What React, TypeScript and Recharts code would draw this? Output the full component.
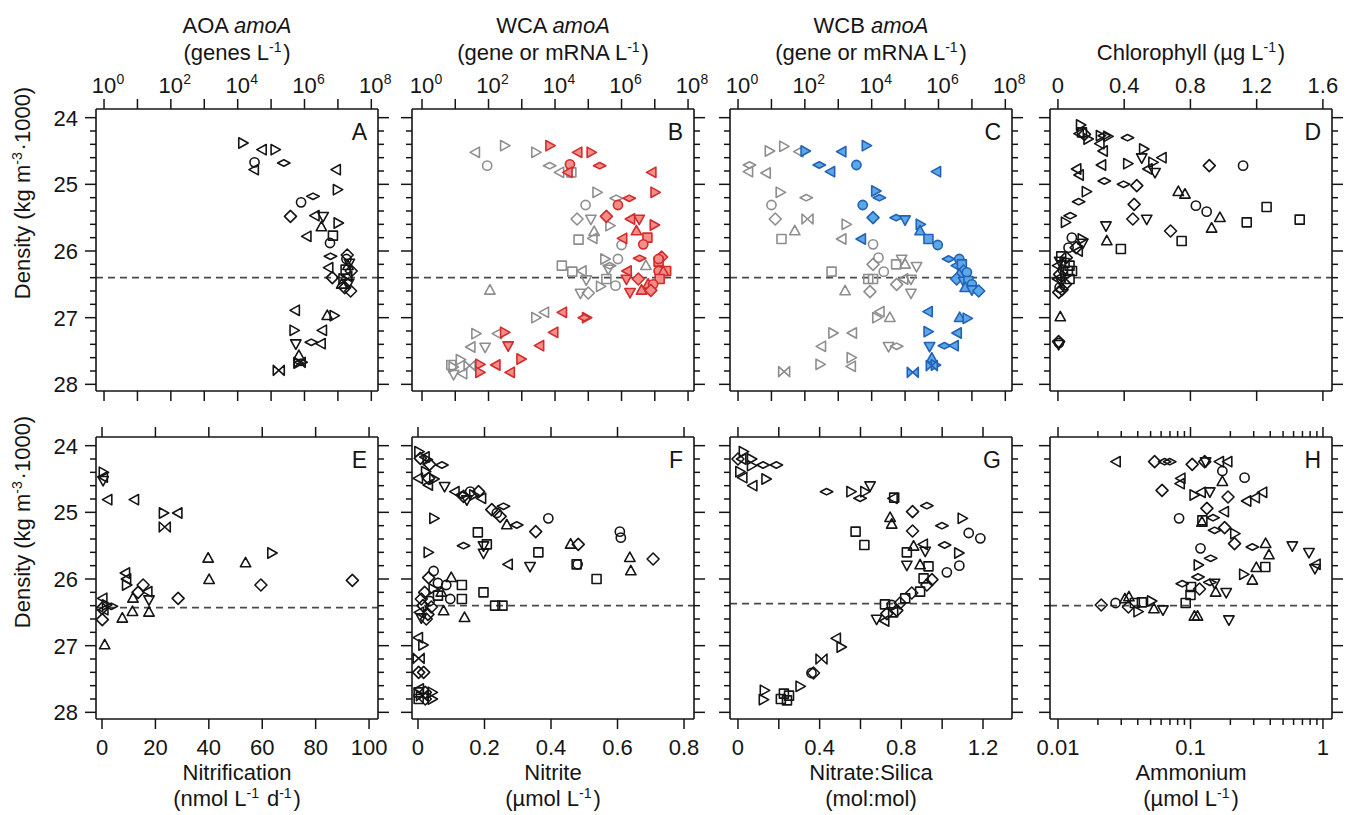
import { ScatterChart, Scatter, XAxis, YAxis, ReferenceLine } from "recharts";

type Row = [number, number, string];

// markers: o circle, s square, d diamond, f flat diamond, u/v/l/r triangles, b bowtie

const densityTicks = [24, 24.2, 24.4, 24.6, 24.8, 25, 25.2, 25.4, 25.6, 25.8, 26, 26.2, 26.4, 26.6, 26.8, 27, 27.2, 27.4, 27.6, 27.8, 28];
const ticksLog = [1, 10, 100, 1e3, 1e4, 1e5, 1e6, 1e7, 1e8];
const ticksChl = [0, 0.4, 0.8, 1.2, 1.6];
const ticksNitrif = [0, 20, 40, 60, 80, 100];
const ticksNitrite = [0, 0.2, 0.4, 0.6, 0.8];
const ticksNs = [0, 0.2, 0.4, 0.6, 0.8, 1, 1.2];
const labelsNs = [0, 0.4, 0.8, 1.2];
const ticksNh4 = [0.01, 0.02, 0.03, 0.04, 0.05, 0.06, 0.07, 0.08, 0.09, 0.1, 0.2, 0.3, 0.4, 0.5, 0.6, 0.7, 0.8, 0.9, 1];

const aoa: Row[] = [
  [1.4e4, 24.38, "r"], [5.5e4, 24.48, "l"], [1.3e5, 24.48, "r"], [3.2e4, 24.67, "o"], [3.2e4, 24.78, "l"],
  [2.4e5, 24.68, "f"], [9.1e6, 24.78, "l"], [9.5e6, 25.08, "r"], [1.8e6, 25.18, "f"], [7.9e5, 25.27, "o"],
  [3.8e5, 25.48, "d"], [2.1e6, 25.47, "l"], [3.6e6, 25.48, "v"], [3.2e6, 25.64, "u"], [1.0e7, 25.58, "r"],
  [1.2e6, 25.78, "l"], [7.1e6, 25.77, "s"], [5.8e6, 25.88, "o"], [6.0e6, 26.08, "f"], [1.9e7, 26.06, "d"],
  [1.8e7, 26.12, "o"], [2.2e7, 26.18, "v"], [2.0e7, 26.22, "u"], [2.5e7, 26.3, "d"], [1.7e7, 26.28, "s"],
  [2.0e7, 26.38, "l"], [1.4e7, 26.42, "r"], [2.1e7, 26.48, "v"], [1.6e7, 26.55, "d"], [2.4e7, 26.6, "d"],
  [1.3e7, 26.5, "u"], [5.4e6, 26.25, "l"], [6.8e6, 26.4, "d"], [5.4e5, 26.89, "l"], [4.8e6, 26.97, "u"],
  [7.6e6, 26.97, "r"], [4.8e5, 27.19, "r"], [3.5e6, 27.19, "l"], [1.6e6, 27.37, "f"], [3.2e6, 27.39, "l"],
  [5.5e5, 27.39, "v"], [6.8e5, 27.57, "u"], [7.2e5, 27.67, "b"], [7.9e5, 27.67, "f"], [6.3e5, 27.68, "r"],
  [1.7e5, 27.79, "b"],
];

const wcaGenes: Row[] = [
  [41, 24.52, "l"], [300, 24.42, "r"], [91, 24.72, "o"], [2.6e3, 24.52, "r"], [6.9e3, 24.72, "f"],
  [1.4e4, 24.82, "l"], [3.1e4, 24.82, "s"], [1.8e5, 25.12, "r"], [8.3e4, 25.31, "o"], [6.9e5, 25.21, "f"],
  [4.6e4, 25.52, "d"], [1.2e5, 25.52, "v"], [1.5e5, 25.71, "u"], [1.4e5, 25.81, "l"], [4.4e5, 25.62, "r"],
  [5.1e4, 25.83, "s"], [1.0e6, 25.91, "o"], [3.1e5, 26.12, "r"], [7.8e5, 26.12, "o"], [4.4e5, 26.22, "f"],
  [4.0e5, 26.27, "v"], [1.6e4, 26.22, "s"], [3.3e4, 26.31, "s"], [6.6e4, 26.3, "l"], [8.7e4, 26.43, "v"],
  [3.5e5, 26.42, "s"], [6.6e5, 26.52, "o"], [5.4e6, 26.22, "u"], [2.3e5, 26.53, "r"], [5.8e4, 26.63, "v"],
  [1.0e5, 26.63, "d"], [110, 26.59, "u"], [2.6e3, 27.0, "r"], [4.9e3, 26.92, "l"], [41, 27.24, "r"],
  [190, 27.24, "l"], [30, 27.44, "l"], [79, 27.44, "v"], [14, 27.63, "r"], [8.5, 27.74, "r"],
  [8.9, 27.85, "v"], [17, 27.84, "l"], [7.6, 27.71, "s"], [27, 27.72, "b"],
];

const wcaMrna: Row[] = [
  [6.9e3, 24.42, "r"], [4.9e4, 24.52, "l"], [1.2e5, 24.52, "r"], [2.8e4, 24.7, "o"], [2.5e4, 24.82, "l"],
  [2.2e5, 24.72, "f"], [8.3e6, 24.82, "l"], [1.0e7, 25.12, "r"], [1.7e6, 25.21, "f"], [7.8e5, 25.31, "o"],
  [3.5e5, 25.48, "d"], [1.9e6, 25.52, "l"], [3.4e6, 25.52, "v"], [9.5e6, 25.61, "r"], [2.8e6, 25.7, "u"],
  [6.0e6, 25.8, "s"], [1.1e6, 25.81, "l"], [4.5e6, 25.9, "o"], [3.5e6, 26.11, "f"], [1.6e7, 26.09, "d"],
  [1.3e7, 26.16, "s"], [1.3e7, 26.12, "o"], [2.2e7, 26.3, "s"], [1.3e7, 26.3, "o"], [1.8e7, 26.31, "u"],
  [1.4e7, 26.42, "s"], [1.5e6, 26.3, "l"], [1.4e6, 26.42, "v"], [3.2e6, 26.42, "d"], [6.3e6, 26.5, "u"],
  [1.8e6, 26.62, "v"], [4.0e6, 26.59, "u"], [8.9e6, 26.5, "o"], [7.6e6, 26.59, "d"], [1.7e4, 26.92, "l"],
  [8.7e4, 27.0, "r"], [7.6e4, 27.0, "f"], [9.3e3, 27.22, "l"], [300, 27.22, "r"], [390, 27.42, "v"],
  [3.5e3, 27.42, "l"], [930, 27.62, "r"], [170, 27.71, "l"], [460, 27.82, "l"], [54, 27.7, "r"],
  [54, 27.82, "r"],
];

const wcbGenes: Row[] = [
  [8.5, 24.5, "r"], [23, 24.43, "r"], [68, 24.51, "l"], [2.2, 24.71, "f"], [2.1, 24.81, "l"],
  [7.1, 24.83, "l"], [18, 25.12, "r"], [110, 25.2, "f"], [10, 25.31, "o"], [13, 25.52, "d"],
  [120, 25.52, "b"], [50, 25.7, "u"], [20, 25.82, "s"], [1.7e3, 25.6, "r"], [1.3e3, 25.82, "l"],
  [1.1e4, 25.9, "o"], [1.6e4, 26.1, "o"], [1.1e4, 26.2, "d"], [2.3e4, 26.31, "o"], [5.4e4, 26.2, "s"],
  [7.9e4, 26.12, "v"], [1.0e5, 26.2, "u"], [2.2e5, 26.23, "v"], [630, 26.31, "s"], [7.9e3, 26.42, "s"],
  [1.1e4, 26.42, "s"], [5.6e4, 26.5, "d"], [9.3e4, 26.42, "l"], [1.5e5, 26.42, "v"], [1.5e5, 26.63, "v"],
  [1.6e3, 26.6, "u"], [8.9e3, 26.61, "d"], [3.5e4, 27.0, "u"], [1.8e4, 26.91, "l"], [1.4e4, 27.0, "r"],
  [680, 27.23, "r"], [2.7e3, 27.23, "l"], [320, 27.43, "l"], [3.2e4, 27.43, "v"], [5.6e4, 27.43, "f"],
  [280, 27.7, "r"], [2.4e3, 27.6, "r"], [2.5e3, 27.73, "l"], [24, 27.81, "b"],
];

const wcbMrna: Row[] = [
  [100, 24.5, "r"], [1.3e3, 24.51, "l"], [6.8e3, 24.42, "r"], [270, 24.71, "f"], [600, 24.81, "l"],
  [3.5e3, 24.71, "o"], [8.9e5, 24.81, "l"], [1.3e4, 25.1, "r"], [1.7e4, 25.2, "f"], [5.4e3, 25.31, "o"],
  [1.1e4, 25.5, "d"], [5.4e4, 25.5, "f"], [1.0e5, 25.53, "v"], [2.8e5, 25.6, "r"], [2.8e5, 25.7, "u"],
  [5.0e5, 25.82, "s"], [9.5e5, 25.91, "o"], [5.0e3, 25.82, "l"], [2.0e6, 26.12, "f"], [4.2e6, 26.12, "o"],
  [3.5e6, 26.22, "l"], [5.0e6, 26.2, "s"], [5.6e6, 26.3, "d"], [7.1e6, 26.32, "o"], [4.2e6, 26.35, "u"],
  [3.5e6, 26.42, "d"], [5.6e6, 26.45, "v"], [7.9e6, 26.45, "s"], [1.0e7, 26.5, "o"], [6.3e6, 26.55, "u"],
  [1.0e7, 26.58, "v"], [1.6e7, 26.6, "d"], [5.0e5, 26.91, "l"], [4.3e6, 27.0, "u"], [7.1e6, 27.01, "r"],
  [4.8e5, 27.21, "r"], [3.7e6, 27.23, "l"], [5.4e5, 27.43, "v"], [1.5e6, 27.42, "f"], [3.0e6, 27.42, "l"],
  [6.3e5, 27.61, "u"], [7.9e5, 27.71, "r"], [6.3e5, 27.72, "b"], [1.7e5, 27.82, "b"],
];

const chlorophyll: Row[] = [
  [0.135, 24.11, "r"], [0.145, 24.22, "s"], [0.13, 24.24, "l"], [0.16, 24.25, "d"], [0.18, 24.32, "r"],
  [0.255, 24.27, "r"], [0.28, 24.27, "f"], [0.3, 24.28, "r"], [0.255, 24.39, "l"], [0.275, 24.5, "l"],
  [0.42, 24.3, "f"], [0.516, 24.47, "r"], [0.506, 24.6, "v"], [0.63, 24.6, "l"], [0.572, 24.67, "r"],
  [0.586, 24.82, "v"], [0.546, 24.77, "l"], [0.265, 24.71, "l"], [0.42, 24.69, "r"], [0.115, 24.77, "l"],
  [0.13, 24.86, "l"], [0.914, 24.72, "d"], [1.118, 24.72, "o"], [0.28, 24.95, "f"], [0.396, 25.0, "f"],
  [0.476, 25.02, "d"], [0.17, 25.11, "r"], [0.125, 25.26, "f"], [0.46, 25.3, "d"], [0.727, 25.11, "u"],
  [0.767, 25.15, "u"], [0.833, 25.32, "o"], [0.898, 25.41, "o"], [0.978, 25.5, "u"], [0.928, 25.66, "u"],
  [1.26, 25.34, "s"], [1.14, 25.57, "s"], [1.46, 25.53, "s"], [0.452, 25.52, "d"], [0.536, 25.52, "v"],
  [0.29, 25.62, "v"], [0.68, 25.7, "d"], [0.747, 25.85, "s"], [0.295, 25.85, "u"], [0.38, 25.97, "s"],
  [0.074, 25.47, "f"], [0.044, 25.57, "r"], [0.084, 25.8, "o"], [0.145, 25.82, "r"], [0.15, 25.88, "v"],
  [0.064, 25.95, "o"], [0.124, 26.0, "l"], [0.11, 25.95, "d"], [0.02, 26.08, "s"], [0.05, 26.1, "d"],
  [0.01, 26.15, "v"], [0.04, 26.18, "s"], [0.07, 26.22, "s"], [0.0, 26.22, "l"], [0.03, 26.28, "o"],
  [0.06, 26.3, "s"], [0.085, 26.3, "s"], [0.01, 26.35, "d"], [0.04, 26.38, "r"], [0.07, 26.42, "s"],
  [0.0, 26.42, "l"], [0.02, 26.46, "v"], [0.045, 26.5, "d"], [0.01, 26.55, "o"], [0.025, 26.58, "d"],
  [0.005, 26.62, "d"], [0.014, 26.99, "u"], [0.004, 27.36, "d"], [0.006, 27.38, "o"], [0.004, 27.4, "v"],
];

const nitrification: Row[] = [
  [0.4, 24.4, "r"], [0.6, 24.47, "l"], [0.4, 24.52, "v"], [2.25, 24.81, "l"], [12.25, 24.81, "l"],
  [22.9, 25.01, "r"], [28.5, 25.01, "l"], [23.5, 25.22, "b"], [39.75, 25.69, "u"], [63.5, 25.61, "r"],
  [53.75, 25.76, "u"], [40.1, 26.01, "u"], [59.5, 26.09, "d"], [93.75, 26.02, "d"], [8.9, 25.91, "l"],
  [9.1, 26.09, "r"], [9.3, 26.0, "l"], [15.4, 26.09, "d"], [17.25, 26.19, "l"], [11.6, 26.29, "u"],
  [13.5, 26.2, "d"], [17.6, 26.31, "v"], [28.5, 26.29, "d"], [17.6, 26.5, "u"], [11.4, 26.49, "u"],
  [7.6, 26.59, "u"], [0.4, 26.29, "l"], [1.6, 26.39, "r"], [3.5, 26.41, "f"], [0, 26.44, "d"],
  [0.8, 26.46, "l"], [0.1, 26.61, "d"], [1.0, 26.99, "u"],
];

const nitrite: Row[] = [
  [0.002, 24.09, "r"], [0.007, 24.19, "d"], [0.022, 24.17, "l"], [0.027, 24.21, "r"], [0.072, 24.29, "f"],
  [0.035, 24.28, "d"], [0.022, 24.39, "r"], [0.002, 24.49, "l"], [0.032, 24.49, "d"], [0.047, 24.5, "r"],
  [0.032, 24.59, "l"], [0.08, 24.61, "v"], [0.112, 24.69, "l"], [0.132, 24.74, "f"], [0.147, 24.81, "v"],
  [0.157, 24.69, "o"], [0.167, 24.74, "r"], [0.182, 24.69, "d"], [0.192, 24.79, "l"], [0.137, 24.76, "d"],
  [0.222, 24.96, "d"], [0.237, 25.01, "o"], [0.257, 24.91, "f"], [0.247, 25.06, "d"], [0.267, 25.19, "u"],
  [0.297, 25.19, "f"], [0.047, 25.09, "r"], [0.392, 25.09, "o"], [0.354, 25.29, "d"], [0.18, 25.3, "s"],
  [0.607, 25.29, "o"], [0.61, 25.38, "o"], [0.137, 25.5, "f"], [0.207, 25.48, "s"], [0.197, 25.5, "v"],
  [0.197, 25.61, "v"], [0.459, 25.48, "u"], [0.482, 25.48, "d"], [0.362, 25.6, "s"], [0.03, 25.6, "r"],
  [0.637, 25.68, "u"], [0.707, 25.7, "d"], [0.64, 25.88, "u"], [0.272, 25.78, "l"], [0.337, 25.81, "v"],
  [0.477, 25.78, "s"], [0.48, 25.78, "o"], [0.537, 26.0, "s"], [0.047, 25.88, "o"], [0.032, 25.98, "d"],
  [0.1, 25.98, "u"], [0.132, 26.09, "s"], [0.132, 26.3, "s"], [0.097, 26.3, "o"], [0.06, 26.06, "o"],
  [0.085, 26.09, "o"], [0.02, 26.2, "d"], [0.045, 26.15, "r"], [0.07, 26.2, "u"], [0.01, 26.3, "d"],
  [0.035, 26.33, "o"], [0.06, 26.25, "s"], [0.015, 26.4, "d"], [0.04, 26.42, "d"], [0.005, 26.5, "l"],
  [0.03, 26.53, "d"], [0.01, 26.58, "v"], [0.025, 26.6, "d"], [0.197, 26.2, "s"], [0.232, 26.4, "s"],
  [0.254, 26.4, "s"], [0.077, 26.48, "u"], [0.14, 26.58, "u"], [0.002, 26.88, "l"], [0.014, 26.99, "r"],
  [0.002, 27.19, "b"], [0.002, 27.4, "d"], [0.017, 27.4, "d"], [0.005, 27.65, "l"], [0.002, 27.7, "s"],
  [0.022, 27.7, "d"], [0.042, 27.7, "r"], [0.002, 27.8, "s"], [0.022, 27.8, "d"], [0.042, 27.8, "r"],
  [0.012, 27.75, "b"],
];

const nitrateSilica: Row[] = [
  [0.025, 24.09, "r"], [0.0, 24.2, "d"], [0.02, 24.2, "l"], [0.065, 24.2, "r"], [0.065, 24.3, "r"],
  [0.123, 24.29, "f"], [0.188, 24.29, "f"], [0.008, 24.39, "r"], [0.025, 24.48, "l"], [0.136, 24.5, "r"],
  [0.074, 24.6, "l"], [0.434, 24.69, "f"], [0.552, 24.69, "r"], [0.598, 24.79, "f"], [0.647, 24.6, "v"],
  [0.62, 24.69, "r"], [0.761, 24.79, "l"], [0.765, 24.78, "s"], [0.855, 24.99, "d"], [0.925, 24.9, "f"],
  [0.745, 25.08, "u"], [0.753, 25.18, "u"], [0.999, 25.2, "f"], [1.097, 25.09, "r"], [1.13, 25.31, "o"],
  [1.187, 25.39, "o"], [0.576, 25.29, "s"], [0.619, 25.49, "s"], [0.855, 25.28, "d"], [1.012, 25.49, "f"],
  [1.08, 25.61, "r"], [1.084, 25.8, "o"], [1.023, 25.9, "o"], [0.827, 25.6, "s"], [0.86, 25.51, "u"],
  [0.909, 25.48, "l"], [0.917, 25.58, "v"], [0.827, 25.79, "v"], [0.892, 25.79, "u"], [0.933, 25.81, "s"],
  [0.909, 25.99, "s"], [0.95, 26.01, "d"], [0.925, 26.09, "d"], [0.892, 26.19, "s"], [0.851, 26.21, "d"],
  [0.819, 26.29, "s"], [0.794, 26.36, "d"], [0.753, 26.39, "o"], [0.72, 26.38, "s"], [0.778, 26.47, "d"],
  [0.729, 26.52, "d"], [0.679, 26.6, "v"], [0.72, 26.63, "l"], [0.76, 26.5, "s"], [0.483, 26.89, "l"],
  [0.504, 27.02, "r"], [0.409, 27.2, "b"], [0.36, 27.41, "o"], [0.37, 27.41, "d"], [0.303, 27.61, "r"],
  [0.225, 27.72, "s"], [0.25, 27.75, "s"], [0.21, 27.8, "s"], [0.24, 27.82, "s"], [0.128, 27.67, "r"],
  [0.123, 27.81, "r"],
];

const ammonium: Row[] = [
  [0.0276, 24.24, "l"], [0.0536, 24.24, "d"], [0.0638, 24.24, "f"], [0.0697, 24.24, "f"], [0.103, 24.28, "d"],
  [0.128, 24.24, "d"], [0.13, 24.24, "v"], [0.166, 24.24, "l"], [0.192, 24.24, "l"], [0.174, 24.38, "o"],
  [0.174, 24.54, "u"], [0.256, 24.48, "o"], [0.085, 24.49, "l"], [0.084, 24.57, "l"], [0.061, 24.67, "d"],
  [0.106, 24.74, "r"], [0.121, 24.7, "l"], [0.14, 24.69, "v"], [0.192, 24.77, "d"], [0.267, 24.83, "l"],
  [0.31, 24.78, "l"], [0.352, 24.7, "l"], [0.133, 24.94, "d"], [0.082, 25.09, "o"], [0.123, 25.12, "s"],
  [0.122, 25.15, "u"], [0.148, 25.08, "f"], [0.181, 24.99, "l"], [0.181, 25.23, "d"], [0.152, 25.27, "f"],
  [0.215, 25.32, "r"], [0.215, 25.47, "d"], [0.293, 25.52, "f"], [0.369, 25.47, "u"], [0.391, 25.64, "u"],
  [0.587, 25.5, "v"], [0.784, 25.6, "v"], [0.891, 25.78, "l"], [0.87, 25.84, "v"], [0.119, 25.54, "o"],
  [0.142, 25.69, "f"], [0.114, 25.79, "r"], [0.367, 25.82, "s"], [0.314, 25.83, "u"], [0.251, 25.93, "r"],
  [0.293, 26.02, "u"], [0.114, 25.97, "f"], [0.0867, 26.07, "f"], [0.101, 26.12, "s"], [0.117, 26.15, "d"],
  [0.14, 26.05, "f"], [0.152, 26.06, "v"], [0.155, 26.2, "u"], [0.186, 26.2, "v"], [0.1, 26.24, "s"],
  [0.092, 26.36, "s"], [0.107, 26.56, "u"], [0.113, 26.56, "u"], [0.195, 26.61, "v"], [0.0212, 26.39, "d"],
  [0.0272, 26.36, "o"], [0.0343, 26.27, "u"], [0.034, 26.42, "d"], [0.04, 26.49, "r"], [0.043, 26.35, "s"],
  [0.0506, 26.33, "r"], [0.053, 26.45, "u"], [0.062, 26.46, "v"], [0.032, 26.3, "u"], [0.038, 26.36, "s"],
];

const FONT = "'Liberation Sans', Arial, Helvetica, sans-serif";
const INK = "#151515";
const SIZE = 282;
const M = 60;
const ROW_TOP = 109;
const ROW_BOT = 437;
const COLS = [96, 412, 730, 1050];
const Y_DOMAIN = [23.87, 28.1];

const black = { fill: "none", stroke: INK };
const gray = { fill: "none", stroke: "#8e8e8e" };
const red = { fill: "#f28e8a", stroke: "#d42b2b" };
const blue = { fill: "#5aa9e6", stroke: "#2462b8" };

const toPts = (rows: Row[]) => rows.map(([x, y, m]) => ({ x, y, m }));

function Marker({ cx, cy, payload, st }: any) {
  if (cx == null || cy == null) return null;
  const p = { fill: st.fill, stroke: st.stroke, strokeWidth: 1.6, strokeLinejoin: "round" as const };
  const t = (pts: number[][]) => <polygon points={pts.map(([a, b]) => `${cx + a},${cy + b}`).join(" ")} {...p} />;
  switch (payload.m) {
    case "o": return <circle cx={cx} cy={cy} r={4.6} {...p} />;
    case "s": return <rect x={cx - 4.5} y={cy - 4.5} width={9} height={9} {...p} />;
    case "d": return t([[0, -6], [6, 0], [0, 6], [-6, 0]]);
    case "f": return t([[0, -3.2], [6.2, 0], [0, 3.2], [-6.2, 0]]);
    case "u": return t([[0, -5.6], [5.2, 3.8], [-5.2, 3.8]]);
    case "v": return t([[0, 5.6], [5.2, -3.8], [-5.2, -3.8]]);
    case "l": return t([[-5.6, 0], [3.8, -5.2], [3.8, 5.2]]);
    case "r": return t([[5.6, 0], [-3.8, -5.2], [-3.8, 5.2]]);
    case "b": return <path d={`M${cx - 5.5},${cy - 5}L${cx},${cy}L${cx - 5.5},${cy + 5}ZM${cx + 5.5},${cy - 5}L${cx},${cy}L${cx + 5.5},${cy + 5}Z`} {...p} />;
    default: return null;
  }
}

function YTick({ x, y, payload, side, label }: any) {
  const v = payload.value;
  const major = Math.abs(v - Math.round(v)) < 1e-6;
  const len = major ? 11 : 6;
  const dir = side === "left" ? -1 : 1;
  return (
    <g>
      <line x1={x} y1={y} x2={x + dir * len} y2={y} stroke={INK} strokeWidth={1.5} />
      {label && major && (
        <text x={x - len - 7} y={y} dy="0.36em" textAnchor="end" fontSize={22} fontFamily={FONT} fill={INK}>{v}</text>
      )}
    </g>
  );
}

function XTick({ x, y, payload, side, fmt, isMajor }: any) {
  const v = payload.value;
  const major = isMajor ? isMajor(v) : true;
  const len = major ? 10 : 6;
  const dir = side === "top" ? -1 : 1;
  const lab = fmt ? fmt(v) : null;
  const ty = side === "top" ? y - 16 : y + 36;
  let text = null;
  if (lab != null && typeof lab === "object") {
    text = (
      <g fontSize={22} fontFamily={FONT} fill={INK}>
        <text x={x} y={ty} textAnchor="middle">10</text>
        <text x={x + 12.5} y={ty - 9} fontSize={14}>{lab.exp}</text>
      </g>
    );
  } else if (lab != null) {
    text = <text x={x} y={ty} textAnchor="middle" fontSize={22} fontFamily={FONT} fill={INK}>{lab}</text>;
  }
  return (
    <g>
      <line x1={x} y1={y} x2={x} y2={y + dir * len} stroke={INK} strokeWidth={1.5} />
      {text}
    </g>
  );
}

const powLabel = (v: number) => {
  const e = Math.round(Math.log10(v));
  return e % 2 === 0 ? { exp: String(e) } : null;
};
const isDecade = (v: number) => Math.abs(Math.log10(v) - Math.round(Math.log10(v))) < 1e-6;

function Panel({ left, top, log, xDomain, xTicks, topFmt, botFmt, isMajor, yLabels, letter, series, refY }: any) {
  const axisLine = { stroke: INK, strokeWidth: 1.6 };
  // axes get 1px of room (a zero-sized axis is not drawn); margins shrink by that pixel
  const common = {
    dataKey: "x", type: "number" as const, scale: log ? ("log" as const) : ("linear" as const), domain: xDomain,
    allowDataOverflow: true, ticks: xTicks, interval: 0 as const, height: 1, tickSize: 0, tickMargin: 0,
    tickLine: false, axisLine,
  };
  const ycommon = {
    dataKey: "y", type: "number" as const, domain: Y_DOMAIN, reversed: true, allowDataOverflow: true,
    ticks: densityTicks, interval: 0 as const, width: 1, tickSize: 0, tickMargin: 0, tickLine: false, axisLine,
  };
  return (
    <div style={{ position: "absolute", left: left - M, top: top - M }}>
      <ScatterChart width={SIZE + 2 * M} height={SIZE + 2 * M} margin={{ top: M - 1, right: M - 1, bottom: M - 1, left: M - 1 }}>
        <XAxis xAxisId="t" orientation="top" {...common}
          tick={(p: any) => <XTick {...p} side="top" fmt={topFmt} isMajor={isMajor} />} />
        <XAxis xAxisId="b" orientation="bottom" {...common}
          tick={(p: any) => <XTick {...p} side="bottom" fmt={botFmt} isMajor={isMajor} />} />
        <YAxis yAxisId="l" orientation="left" {...ycommon}
          tick={(p: any) => <YTick {...p} side="left" label={yLabels} />} />
        <YAxis yAxisId="r" orientation="right" {...ycommon}
          tick={(p: any) => <YTick {...p} side="right" />} />
        <ReferenceLine xAxisId="b" yAxisId="l" y={refY} stroke="#4a4a4a" strokeDasharray="7 5" strokeWidth={1.8} />
        {series.map((s: any, i: number) => (
          <Scatter key={i} xAxisId="b" yAxisId="l" data={toPts(s.rows)} isAnimationActive={false}
            shape={(p: any) => <Marker {...p} st={s.st} />} />
        ))}
      </ScatterChart>
      <svg width={SIZE + 2 * M} height={SIZE + 2 * M} style={{ position: "absolute", left: 0, top: 0, pointerEvents: "none" }}>
        <text x={M + SIZE - 11} y={M + 31} textAnchor="end" fontSize={23} fontFamily={FONT} fill={INK}>{letter}</text>
      </svg>
    </div>
  );
}

const sup = (s: string) => (
  <>
    <tspan dy={-8} fontSize={14}>{s}</tspan>
    <tspan dy={8}>{"\u200a"}</tspan>
  </>
);

export default function App() {
  const logDomA = [0.575, 1.585e8];
  const logDomB = [0.5, 1.51e8];
  const cx = COLS.map((c) => c + SIZE / 2);
  return (
    <div style={{ position: "absolute", left: 0, top: 0, width: 1347, height: 815, background: "#fff", overflow: "hidden" }}>
      <Panel left={COLS[0]} top={ROW_TOP} log xDomain={logDomA} xTicks={ticksLog} topFmt={powLabel}
        yLabels letter="A" refY={26.4} series={[{ rows: aoa, st: black }]} />
      <Panel left={COLS[1]} top={ROW_TOP} log xDomain={logDomB} xTicks={ticksLog} topFmt={powLabel}
        letter="B" refY={26.4} series={[{ rows: wcaGenes, st: gray }, { rows: wcaMrna, st: red }]} />
      <Panel left={COLS[2]} top={ROW_TOP} log xDomain={logDomA} xTicks={ticksLog} topFmt={powLabel}
        letter="C" refY={26.4} series={[{ rows: wcbGenes, st: gray }, { rows: wcbMrna, st: blue }]} />
      <Panel left={COLS[3]} top={ROW_TOP} xDomain={[-0.048, 1.655]} xTicks={ticksChl} topFmt={(v: number) => String(v)}
        letter="D" refY={26.4} series={[{ rows: chlorophyll, st: black }]} />

      <Panel left={COLS[0]} top={ROW_BOT} xDomain={[-2.25, 103.35]} xTicks={ticksNitrif} botFmt={(v: number) => String(v)}
        yLabels letter="E" refY={26.43} series={[{ rows: nitrification, st: black }]} />
      <Panel left={COLS[1]} top={ROW_BOT} xDomain={[-0.018, 0.83]} xTicks={ticksNitrite} botFmt={(v: number) => String(v)}
        letter="F" refY={26.4} series={[{ rows: nitrite, st: black }]} />
      <Panel left={COLS[2]} top={ROW_BOT} xDomain={[-0.039, 1.342]} xTicks={ticksNs}
        botFmt={(v: number) => (labelsNs.includes(v) ? String(v) : null)}
        letter="G" refY={26.37} series={[{ rows: nitrateSilica, st: black }]} />
      <Panel left={COLS[3]} top={ROW_BOT} log xDomain={[0.0087, 1.17]} xTicks={ticksNh4} isMajor={isDecade}
        botFmt={(v: number) => (isDecade(v) ? String(v) : null)}
        letter="H" refY={26.4} series={[{ rows: ammonium, st: black }]} />

      <svg width={1347} height={815} style={{ position: "absolute", left: 0, top: 0, pointerEvents: "none" }}
        fontFamily={FONT} fontSize={22} fill={INK}>
        <text x={cx[0]} y={33} textAnchor="middle">AOA <tspan fontStyle="italic">amoA</tspan></text>
        <text x={cx[0]} y={60} textAnchor="middle">(genes L{sup("-1")})</text>
        <text x={cx[1]} y={33} textAnchor="middle">WCA <tspan fontStyle="italic">amoA</tspan></text>
        <text x={cx[1]} y={60} textAnchor="middle">(gene or mRNA L{sup("-1")})</text>
        <text x={cx[2]} y={33} textAnchor="middle">WCB <tspan fontStyle="italic">amoA</tspan></text>
        <text x={cx[2]} y={60} textAnchor="middle">(gene or mRNA L{sup("-1")})</text>
        <text x={cx[3]} y={60} textAnchor="middle">Chlorophyll (µg L{sup("-1")})</text>

        <text x={cx[0]} y={780} textAnchor="middle">Nitrification</text>
        <text x={cx[0]} y={806} textAnchor="middle">(nmol L{sup("-1")} d{sup("-1")})</text>
        <text x={cx[1]} y={780} textAnchor="middle">Nitrite</text>
        <text x={cx[1]} y={806} textAnchor="middle">(µmol L{sup("-1")})</text>
        <text x={cx[2]} y={780} textAnchor="middle">Nitrate:Silica</text>
        <text x={cx[2]} y={806} textAnchor="middle">(mol:mol)</text>
        <text x={cx[3]} y={780} textAnchor="middle">Ammonium</text>
        <text x={cx[3]} y={806} textAnchor="middle">(µmol L{sup("-1")})</text>

        <text x={30} y={193} textAnchor="middle" transform="rotate(-90 30 193)">Density (kg m{sup("-3")}·1000)</text>
        <text x={30} y={522} textAnchor="middle" transform="rotate(-90 30 522)">Density (kg m{sup("-3")}·1000)</text>
      </svg>
    </div>
  );
}
